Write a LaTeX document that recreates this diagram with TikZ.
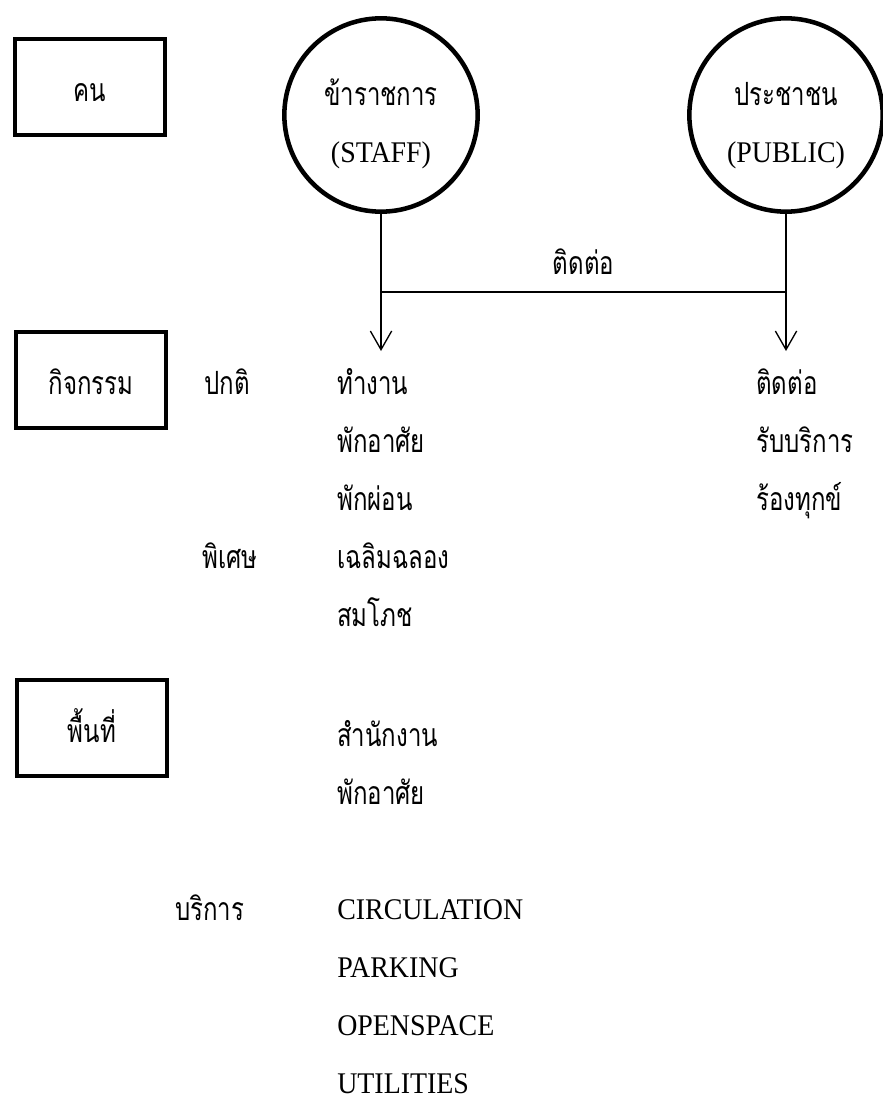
\documentclass[tikz,border=0pt]{standalone}
\usepackage{fontspec}
\setmainfont{Liberation Serif}[FakeStretch=0.93]
\newfontfamily\thaifont[Script=Thai,FakeStretch=0.75]{Loma}
\usepackage{tikz}
\usetikzlibrary{positioning,arrows.meta}

\begin{document}
\begin{tikzpicture}[x=0.75pt,y=-0.75pt]
	\tikzstyle{every node}=[font=\fontsize{22.5}{26}\selectfont]
	\tikzstyle{thai}=[font=\thaifont\fontsize{24}{28}\selectfont]
	\tikzstyle{group}=[rectangle, draw=black, line width=2.8pt, minimum width=113pt, minimum height=72pt, text height=22pt, text depth=0pt, thai]
	\tikzstyle{person}=[circle, draw=black, line width=3.4pt, minimum size=145pt, inner sep=0pt]
	\tikzstyle{item}=[anchor=base west, inner sep=0pt, thai]
	\tikzstyle{word}=[anchor=base west, inner sep=0pt]
	\tikzstyle{link}=[draw=black, line width=1pt]
	\def\rowsep{58}
	\useasboundingbox (0,0) rectangle (882,1098);

	% Draw the group boxes on the left
	\node[group] (people) at (90,87) {คน};
	\node[group] (activity) at (91,380) {กิจกรรม};
	\node[group] (space) at (92,728) {พื้นที่};

	% Draw the two kinds of people
	\node[person] (staff) at (381,115) {};
	\node[person] (public) at (786,115) {};
	\node[thai, anchor=base] (staff-th) at ([yshift=7pt]staff.center) {ข้าราชการ};
	\node[anchor=base] (staff-en) at ([yshift=-36pt]staff.center) {(STAFF)};
	\node[thai, anchor=base] (public-th) at ([yshift=7pt]public.center) {ประชาชน};
	\node[anchor=base] (public-en) at ([yshift=-36pt]public.center) {(PUBLIC)};

	% Draw the kinds of activity
	\node[item] (normal) at (204,394) {ปกติ};
	\node[item] (special) at (202,568) {พิเศษ};
	\node[item] (service) at (175,920) {บริการ};

	% Draw the staff activities
	\foreach \name/\y in {ทำงาน/0,พักอาศัย/1,พักผ่อน/2,เฉลิมฉลอง/3,สมโภช/4}
	\node[item] (S-\y) at (337,394+\y*\rowsep) {\name};
	% Draw the public activities
	\foreach \name/\y in {ติดต่อ/0,รับบริการ/1,ร้องทุกข์/2}
	\node[item] (P-\y) at (756,394+\y*\rowsep) {\name};
	% Draw the spaces
	\foreach \name/\y in {สำนักงาน/0,พักอาศัย/1}
	\node[item] (A-\y) at (337,746+\y*\rowsep) {\name};
	\foreach \name/\y in {CIRCULATION/0,PARKING/1,OPENSPACE/2,UTILITIES/3}
	\node[word] (U-\y) at (337,919+\y*58.1) {\name};

	% Connect the people with their activities
	\coordinate (staff-j) at (381,292);
	\coordinate (public-j) at (786,292);
	\coordinate (staff-end) at (381,351);
	\coordinate (public-end) at (786,351);
	\draw[link,-{Straight Barb[length=14pt,width=16pt]}] (staff) -- (staff-end);
	\draw[link,-{Straight Barb[length=14pt,width=16pt]}] (public) -- (public-end);
	\draw[link] (staff-j) -- node[above=9pt, thai] {ติดต่อ} (public-j);
\end{tikzpicture}
\end{document}
